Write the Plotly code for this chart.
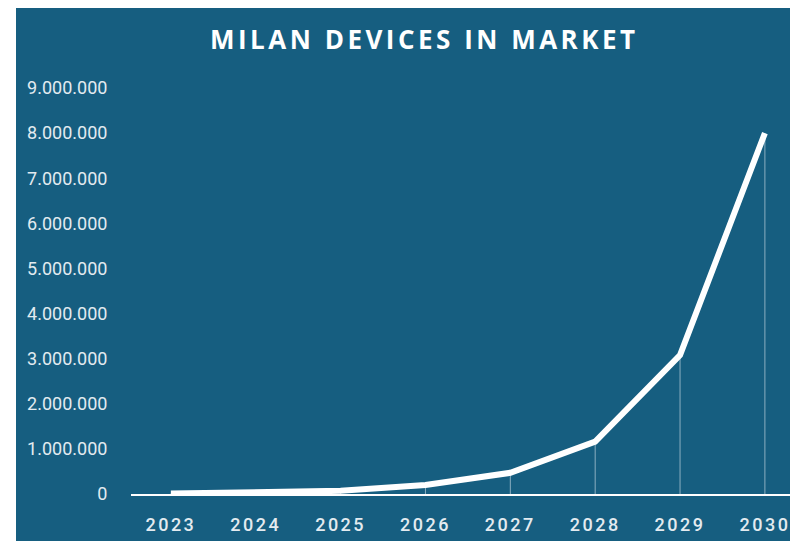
import plotly.graph_objects as go

years = ["2023", "2024", "2025", "2026", "2027", "2028", "2029", "2030"]
devices = [10000, 25000, 70000, 200000, 470000, 1160000, 3080000, 8000000]
y_ticks = [0, 1000000, 2000000, 3000000, 4000000, 5000000, 6000000, 7000000, 8000000, 9000000]
title_text = "MILAN DEVICES IN MARKET"

BG = "#165e80"
TXT = "#e3ebf0"

# drop lines from each point to baseline
drop_x, drop_y = [], []
for yr, v in zip(years, devices):
    drop_x += [yr, yr, None]
    drop_y += [0, v, None]

fig = go.Figure()
fig.add_trace(go.Scatter(x=drop_x, y=drop_y, mode="lines",
                         line=dict(color="rgba(255,255,255,0.5)", width=1),
                         hoverinfo="skip", showlegend=False))
fig.add_trace(go.Scatter(x=years, y=devices, mode="lines",
                         line=dict(color="white", width=6),
                         showlegend=False))

W, H = 790, 533
L, R, T, B = 123, 0, 62, 47
pw, ph = W - L - R, H - T - B

fig.update_layout(
    width=W, height=H,
    margin=dict(l=L, r=R, t=T, b=B),
    paper_bgcolor="white",
    plot_bgcolor=BG,
    separators=",.",
    title=dict(text='<span style="letter-spacing:3.5px">' + title_text + '</span>',
               x=0.527, xanchor="center", y=1 - 32 / H, yanchor="middle",
               font=dict(family="Open Sans", size=26, color="white", weight=700)),
    shapes=[dict(type="rect", xref="paper", yref="paper",
                 x0=-(L - 8) / pw, x1=1.02, y0=-(B + 5) / ph, y1=(ph + T + 10) / ph,
                 fillcolor=BG, line=dict(width=0), layer="below")],
    xaxis=dict(type="category", range=[-0.47, 7.39], showgrid=False, zeroline=False,
               showline=True, linecolor="white", linewidth=2,
               tickvals=years,
               ticktext=['<span style="letter-spacing:2.5px">' + y + '</span>' for y in years],
               ticks="outside", ticklen=13, tickcolor="rgba(0,0,0,0)",
               tickfont=dict(family="Roboto", size=18, color=TXT, weight=500)),
    yaxis=dict(range=[0, 9399000], tickvals=y_ticks, tickformat=",d",
               showgrid=False, zeroline=False, showline=False,
               ticks="outside", ticklen=19, tickcolor="rgba(0,0,0,0)",
               tickfont=dict(family="Roboto", size=18, color=TXT)),
)

fig.write_html("out.html")
